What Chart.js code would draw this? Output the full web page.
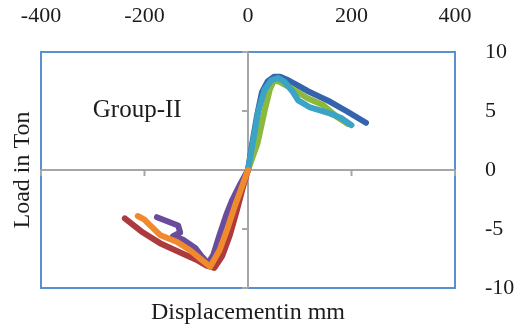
<!DOCTYPE html>
<html>
<head>
<meta charset="utf-8">
<script src="https://cdn.jsdelivr.net/npm/chart.js@4"></script>
<style>
  html, body { margin: 0; padding: 0; background: #fff; }
  #wrap { width: 516px; height: 327px; }
</style>
</head>
<body>
<div id="wrap"><canvas id="loadChart" width="516" height="327"></canvas></div>
<script>
// displacement (mm) / load (ton) traces, positive and negative loading
const blueX   = [0, 8, 17, 27, 38, 50, 62, 78, 95, 115, 139, 158, 190, 228];
const blueY   = [0, 2.2, 4.5, 6.6, 7.5, 7.9, 7.9, 7.6, 7.2, 6.7, 6.2, 5.8, 5.0, 4.0];
const greenX  = [0, 18, 32, 42, 50, 60, 85, 114, 145, 172, 193];
const greenY  = [0, 2.2, 5.0, 6.8, 7.6, 7.5, 6.9, 6.1, 5.5, 4.5, 3.9];
const aquaX   = [0, 10, 20, 32, 45, 58, 70, 87, 97, 120, 158, 180, 200];
const aquaY   = [0, 2.5, 5.0, 6.8, 7.6, 7.8, 7.5, 6.6, 5.9, 5.3, 4.8, 4.4, 3.8];
const redX    = [0, -10, -22, -35, -50, -65, -80, -100, -131, -170, -203, -238];
const redY    = [0, -1.5, -3.5, -5.5, -7.3, -8.3, -8.1, -7.6, -7.0, -6.2, -5.3, -4.1];
const purpleX = [0, -15, -30, -42, -55, -67, -77, -90, -102, -126, -145, -131, -135, -176];
const purpleY = [0, -1.2, -2.5, -3.8, -5.5, -7.2, -7.9, -7.3, -6.6, -5.9, -5.6, -5.3, -4.7, -4.0];
const orangeX = [0, -10, -25, -40, -55, -73, -90, -112, -137, -170, -189, -200, -213];
const orangeY = [0, -1.2, -3.0, -5.0, -6.8, -8.2, -7.6, -6.8, -6.1, -5.5, -4.7, -4.2, -3.9];

const xTicks = [-400, -200, 0, 200, 400];
const yTicks = [-10, -5, 0, 5, 10];
const groupLabel = "Group-II";

const serif = "'Liberation Serif', 'Times New Roman', serif";
const frameBlue = "#5b8fd4";
const axisGray = "#a6a6a6";
const inkColor = "#1c1c1c";

const pts = (xs, ys) => xs.map((x, i) => ({ x, y: ys[i] }));

function series(xs, ys, color, order) {
  return {
    data: pts(xs, ys),
    borderColor: color,
    backgroundColor: color,
    borderWidth: 6,
    pointRadius: 0,
    tension: 0,
    fill: false,
    order,
    borderCapStyle: "round",
    borderJoinStyle: "round"
  };
}

// gray zero axes with outside tick marks, plus the group caption
const crossAxes = {
  id: "crossAxes",
  beforeDatasetsDraw(chart) {
    const { ctx, chartArea } = chart;
    const xs = chart.scales.x, ys = chart.scales.y;
    const x0 = xs.getPixelForValue(0), y0 = ys.getPixelForValue(0);
    ctx.save();
    ctx.strokeStyle = axisGray;
    ctx.lineWidth = 2;
    ctx.beginPath();
    ctx.moveTo(chartArea.left, y0); ctx.lineTo(chartArea.right, y0);
    ctx.moveTo(x0, chartArea.top); ctx.lineTo(x0, chartArea.bottom);
    xTicks.forEach((v) => {
      if (v === 0) return;
      const px = xs.getPixelForValue(v);
      ctx.moveTo(px, y0); ctx.lineTo(px, y0 + 6);
    });
    yTicks.forEach((v) => {
      if (v === 0) return;
      const py = ys.getPixelForValue(v);
      ctx.moveTo(x0, py); ctx.lineTo(x0 - 6, py);
    });
    ctx.stroke();
    ctx.restore();
  },
  afterDraw(chart) {
    const { ctx } = chart;
    ctx.save();
    ctx.fillStyle = inkColor;
    ctx.font = "25px " + serif;
    ctx.textBaseline = "alphabetic";
    ctx.fillText(groupLabel, chart.scales.x.getPixelForValue(-300), chart.scales.y.getPixelForValue(4.5));
    ctx.restore();
  }
};

const tickFont = { family: serif, size: 22 };
const titleFont = { family: serif, size: 24 };

new Chart(document.getElementById("loadChart"), {
  type: "line",
  data: {
    datasets: [
      series(blueX, blueY, "#3464ad", 6),
      series(redX, redY, "#ad3a3c", 5),
      series(greenX, greenY, "#8cb83c", 4),
      series(purpleX, purpleY, "#6a4c9c", 3),
      series(aquaX, aquaY, "#3aa3c6", 2),
      series(orangeX, orangeY, "#f08a2c", 1)
    ]
  },
  options: {
    responsive: false,
    animation: false,
    devicePixelRatio: 1,
    layout: { padding: 0 },
    plugins: { legend: { display: false }, tooltip: { enabled: false } },
    scales: {
      x: {
        type: "linear",
        position: "top",
        min: -400, max: 400,
        afterBuildTicks: (s) => { s.ticks = xTicks.map((v) => ({ value: v })); },
        afterFit: (s) => { s.height = 52; },
        ticks: { font: tickFont, color: inkColor, padding: 15, maxRotation: 0 },
        grid: { display: false },
        border: { color: frameBlue, width: 2 }
      },
      y: {
        type: "linear",
        position: "right",
        min: -10, max: 10,
        afterBuildTicks: (s) => { s.ticks = yTicks.map((v) => ({ value: v })); },
        afterFit: (s) => { s.width = 61; },
        ticks: { font: tickFont, color: inkColor, padding: 22 },
        grid: { display: false },
        border: { color: frameBlue, width: 2 }
      },
      xBottom: {
        type: "linear",
        axis: "x",
        position: "bottom",
        min: -400, max: 400,
        afterFit: (s) => { s.height = 39; },
        ticks: { display: false },
        grid: { display: false },
        border: { color: frameBlue, width: 2 },
        title: { display: true, text: "Displacementin mm", font: titleFont, color: inkColor, padding: 0 }
      },
      yLeft: {
        type: "linear",
        axis: "y",
        position: "left",
        min: -10, max: 10,
        afterFit: (s) => { s.width = 41; },
        ticks: { display: false },
        grid: { display: false },
        border: { color: frameBlue, width: 2 },
        title: { display: true, text: "Load in Ton", font: titleFont, color: inkColor, padding: 8 }
      }
    }
  },
  plugins: [crossAxes]
});
</script>
</body>
</html>
